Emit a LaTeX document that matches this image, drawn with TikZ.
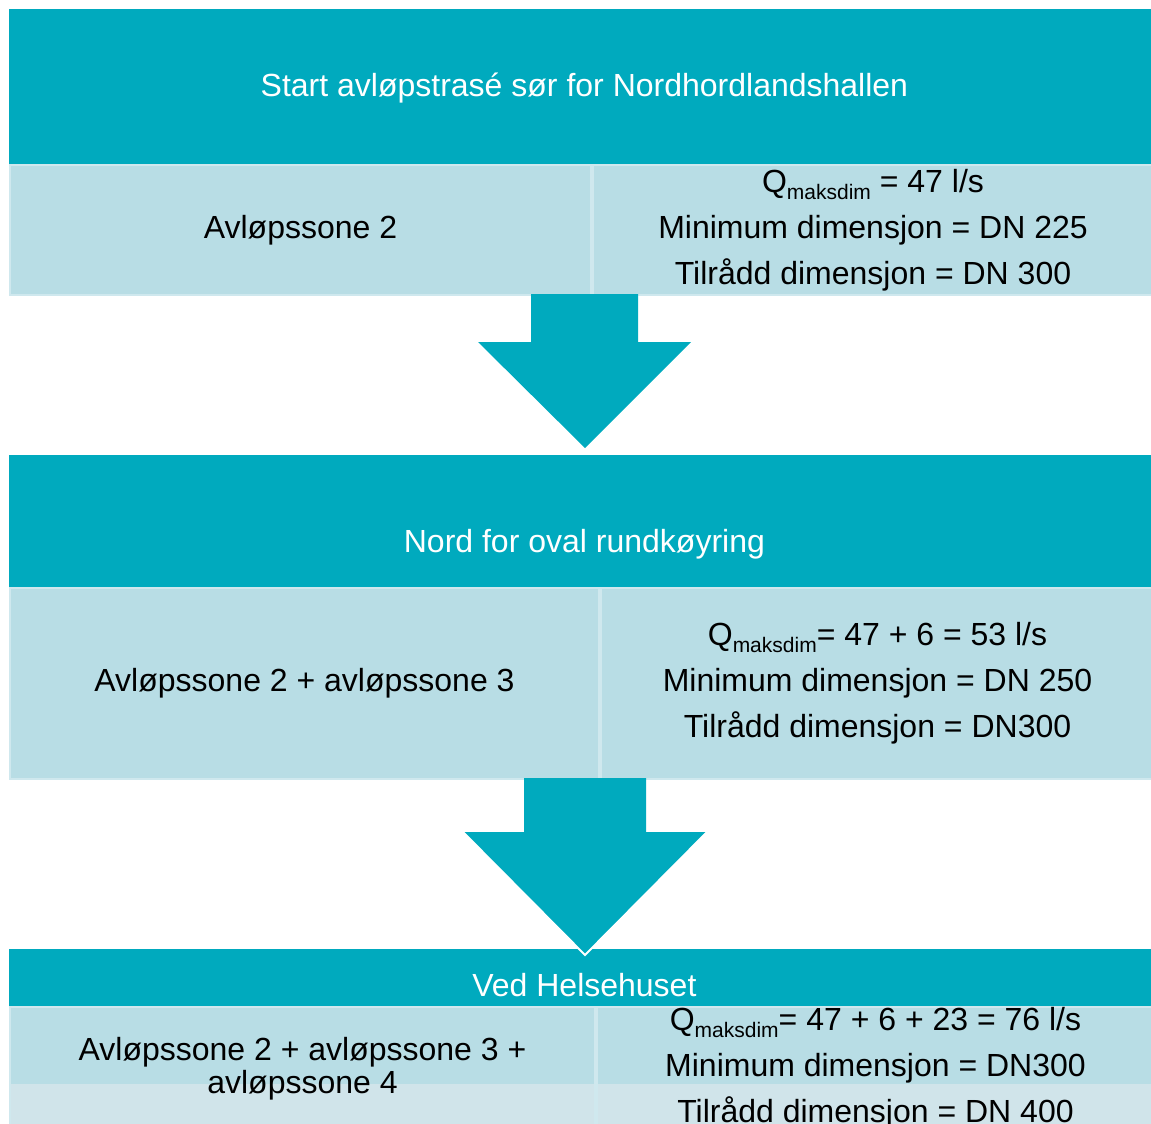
\documentclass[tikz,border=0pt]{standalone}
\usepackage{fontspec}
\setmainfont{Liberation Sans}
\usetikzlibrary{positioning}

\definecolor{headteal}{HTML}{00AABE}
\definecolor{cellblue}{HTML}{B8DDE5}
\definecolor{cellpale}{HTML}{D0E4EA}
\definecolor{cellline}{HTML}{CFE8EE}

\newcommand{\qmaks}{Q\raisebox{-3.5pt}{\fontsize{10.5}{10.5}\selectfont maksdim}}

\begin{document}
\begin{tikzpicture}[
    x=0.5pt, y=-0.5pt,
    font=\fontsize{16}{23}\selectfont,
    header/.style={
        rectangle,
        fill=headteal,
        inner sep=0pt,
        minimum width=571pt,
        anchor=north west
    },
    title/.style={
        text=white,
        inner sep=0pt
    },
    cell/.style={
        rectangle,
        fill=cellblue,
        draw=cellline,
        line width=1pt,
        inner sep=0pt,
        align=center,
        anchor=north west
    },
    blockarrow/.style={
        fill=headteal
    },
    arrowrim/.style={
        draw=white,
        line width=1pt
    }
]
\useasboundingbox (0,0) rectangle (1151,1124);

% Start
\node[header, minimum height=77.5pt] (head1) at (9,9) {};
\node[title] (title1) at ([xshift=2pt, yshift=-0.75pt]head1.center) {Start avløpstrasé sør for Nordhordlandshallen};

\node[cell, minimum width=290.5pt, minimum height=65pt] (zone1) at (9,164) {Avløpssone 2};
\node[cell, minimum width=280pt, minimum height=65pt] (dim1) at (zone1.north east) {\qmaks{} = 47 l/s\\Minimum dimensjon = DN 225\\Tilrådd dimensjon = DN 300};

\fill[blockarrow] (531,294) -- (531,342) -- (478,342) -- (585,448) -- (691,342) -- (638,342) -- (638,294) -- cycle;

% Nord for oval rundkoyring
\node[header, minimum height=66pt] (head2) at (9,455) {};
\node[title] (title2) at ([xshift=2pt, yshift=-11.5pt]head2.center) {Nord for oval rundkøyring};

\node[cell, minimum width=294.5pt, minimum height=95.5pt] (zone2) at (9,587) {Avløpssone 2 + avløpssone 3};
\node[cell, minimum width=276.5pt, minimum height=95.5pt] (dim2) at (zone2.north east) {\qmaks= 47 + 6 = 53 l/s\\Minimum dimensjon = DN 250\\Tilrådd dimensjon = DN300};

% Ved Helsehuset
\node[header, minimum height=28.5pt] (head3) at (9,949) {};
\node[title] (title3) at ([xshift=2pt, yshift=-3.5pt]head3.center) {Ved Helsehuset};

\fill[cellblue] (9,1006) rectangle (1151,1084);
\fill[cellpale] (9,1084) rectangle (1151,1124);
\node[cell, fill=none, minimum width=292.5pt, minimum height=59pt] (zone3) at (9,1006) {};
\node[align=center, inner sep=0pt, font=\fontsize{16}{16.5}\selectfont] (zone3text) at ([yshift=-1.5pt]zone3.center) {Avløpssone 2 + avløpssone 3 +\\avløpssone 4};
\node[cell, fill=none, minimum width=278.5pt, minimum height=59pt] (dim3) at (zone3.north east) {\qmaks= 47 + 6 + 23 = 76 l/s\\Minimum dimensjon = DN300\\Tilrådd dimensjon = DN 400};

\fill[blockarrow] (524,778) -- (524,832) -- (463,832) -- (585,955) -- (707,832) -- (646,832) -- (646,778) -- cycle;
\draw[arrowrim] (463,832) -- (585,955) -- (707,832);

\end{tikzpicture}
\end{document}
